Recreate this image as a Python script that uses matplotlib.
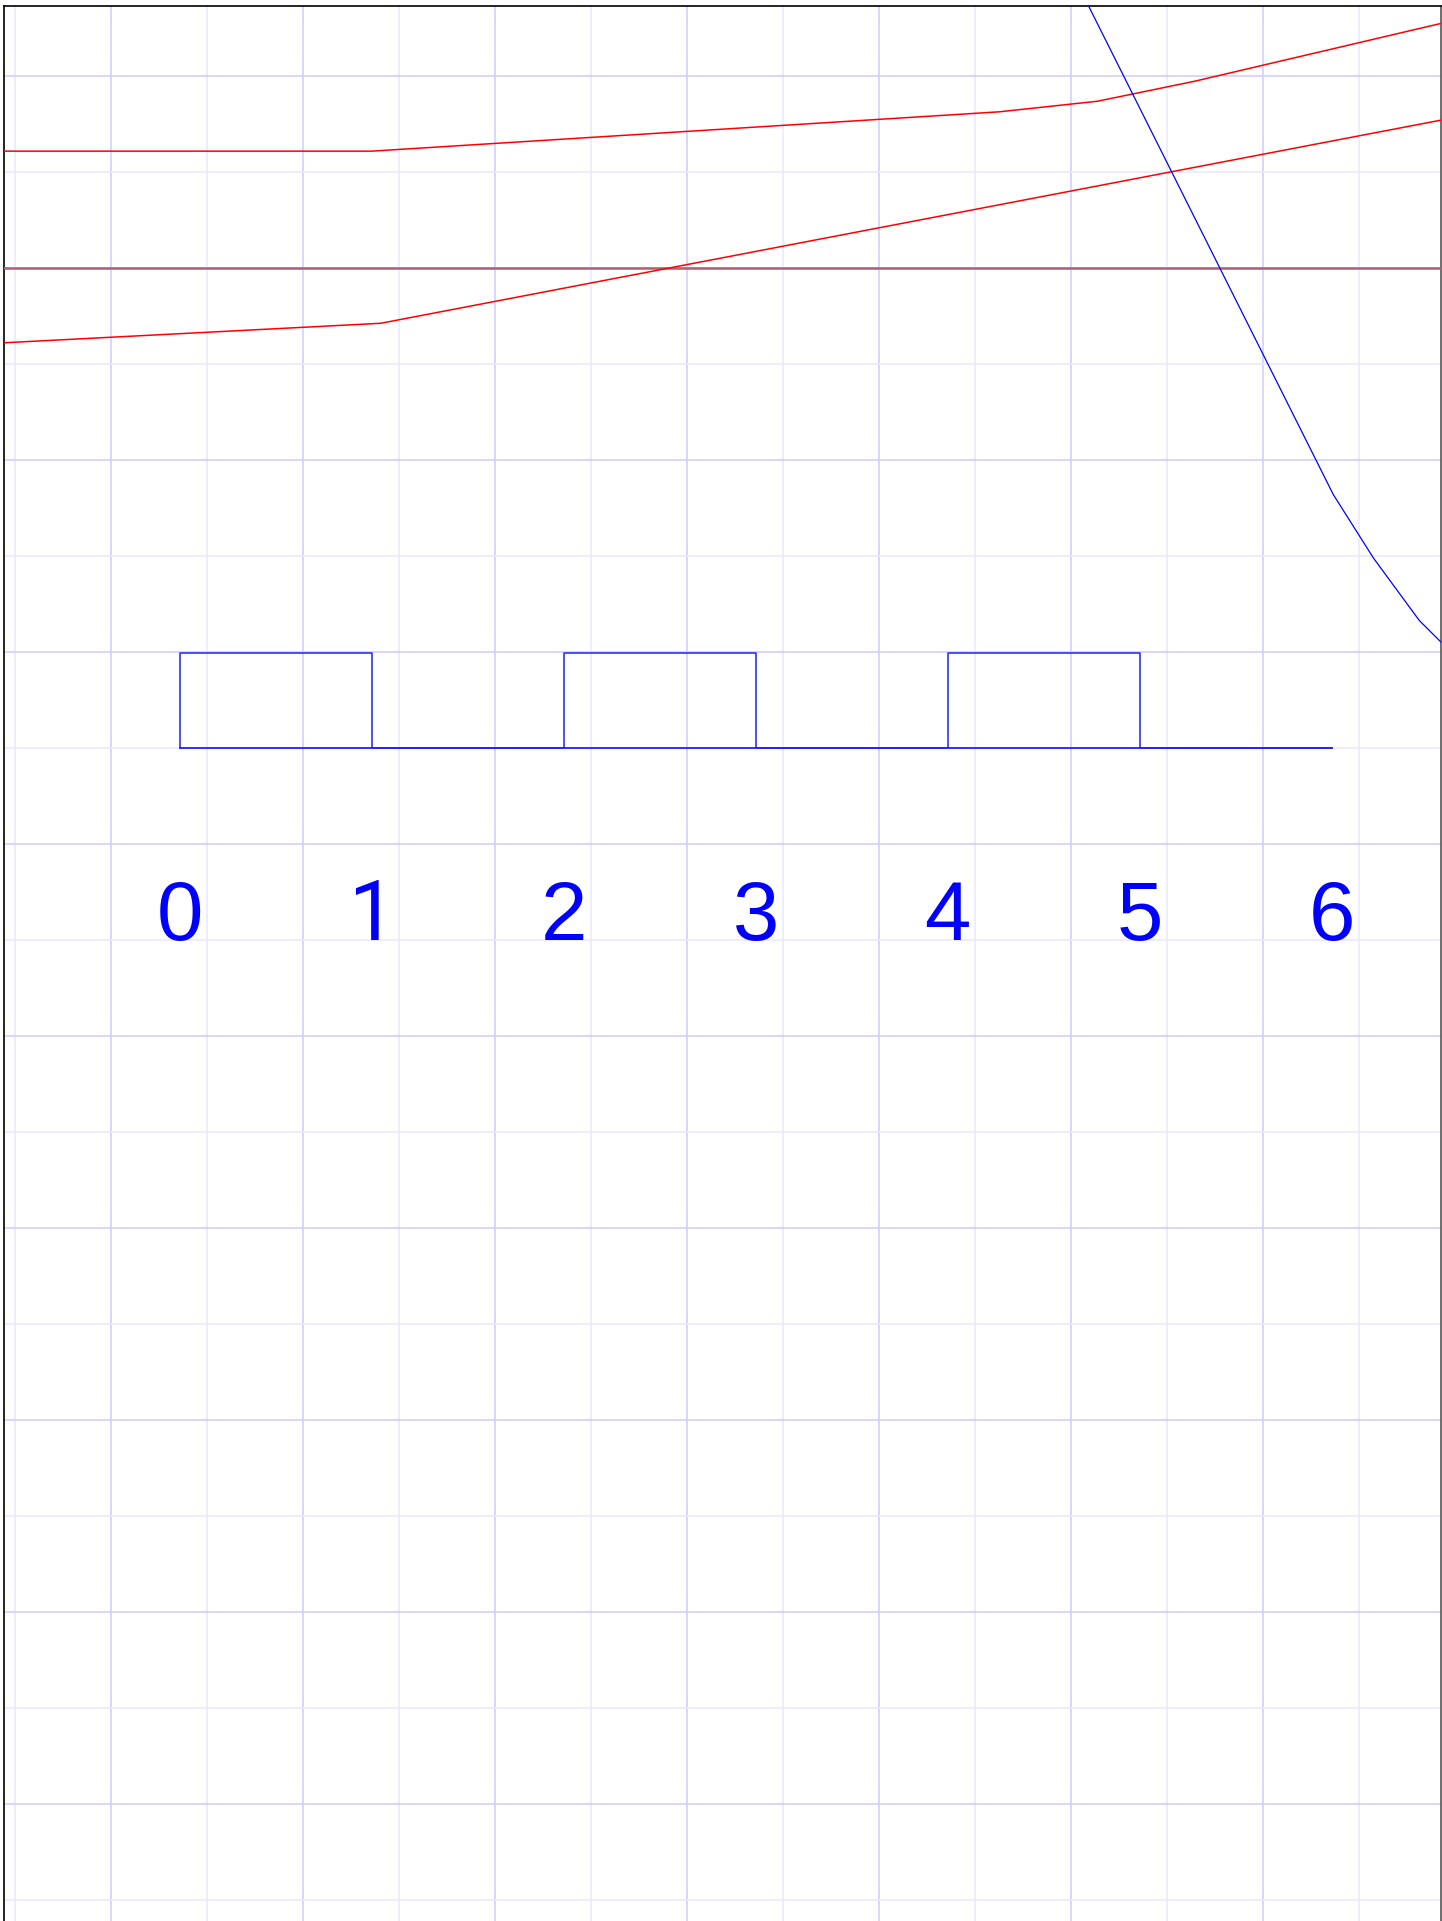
import matplotlib
matplotlib.use("Agg")
import matplotlib.pyplot as plt
import numpy as np

# ---------------- data ----------------
labels = ["0", "1", "2", "3", "4", "5", "6"]
label_x = [0, 1, 2, 3, 4, 5, 6]
label_y = -2.0

# square wave (clock) : edges, high/low levels
wave_x = [0, 0, 1, 1, 2, 2, 3, 3, 4, 4, 5, 5, 6]
wave_y = [0, 0.99, 0.99, 0, 0, 0.99, 0.99, 0, 0, 0.99, 0.99, 0, 0]
base_x = [0, 6]
base_y = [0, 0]

# red polylines
red_a_x = [-1.0, 1.0, 4.27, 4.78, 5.29, 6.60]
red_a_y = [6.22, 6.22, 6.63, 6.74, 6.95, 7.565]
red_b_x = [-1.0, 1.047, 6.60]
red_b_y = [4.215, 4.427, 6.555]
ref_x = [-1.0, 6.7]
ref_y = [5.0, 5.0]

# blue descending curve
blue_x = [4.70, 6.008, 6.217, 6.456, 6.573, 6.60]
blue_y = [7.866, 2.643, 1.982, 1.331, 1.098, 1.04]

# ---------------- figure ----------------
W, H = 1442, 1921
fig = plt.figure(figsize=(W / 100, H / 100), dpi=100)
left_px, right_px, top_px = 4.3, 1441.0, 6.0
ax = fig.add_axes([left_px / W, 0.0, (right_px - left_px) / W, 1 - top_px / H])

XLIM = (-0.9135, 6.569)
YLIM = (-12.216, 7.732)

# grid (ticks only inside the view)
x_major = np.arange(-0.359375, 7.0, 1.0)
x_minor = np.arange(-0.859375, 7.0, 1.0)
y_major = np.arange(-13, 9, 2)
y_minor = np.arange(-12, 9, 2)
x_major = x_major[(x_major >= XLIM[0]) & (x_major <= XLIM[1])]
x_minor = x_minor[(x_minor >= XLIM[0]) & (x_minor <= XLIM[1])]
y_major = y_major[(y_major >= YLIM[0]) & (y_major <= YLIM[1])]
y_minor = y_minor[(y_minor >= YLIM[0]) & (y_minor <= YLIM[1])]
ax.set_xticks(x_major)
ax.set_xticks(x_minor, minor=True)
ax.set_yticks(y_major)
ax.set_yticks(y_minor, minor=True)
ax.grid(which="major", color="#ccccff", linewidth=1.1)
ax.grid(which="minor", color="#e8e8ff", linewidth=1.1)
ax.tick_params(which="both", length=0, labelbottom=False, labelleft=False)
ax.set_axisbelow(True)

for s in ["left", "top"]:
    ax.spines[s].set_color("black")
    ax.spines[s].set_linewidth(1.2)
ax.spines["right"].set_color("#555555")
ax.spines["right"].set_linewidth(1.2)
ax.spines["bottom"].set_visible(False)

# lines
ax.plot(ref_x, ref_y, color="#b06070", linewidth=1.8, zorder=3)
ax.plot(red_a_x, red_a_y, color="#ff0000", linewidth=1.1, zorder=4)
ax.plot(red_b_x, red_b_y, color="#ff0000", linewidth=1.1, zorder=4)
ax.plot(blue_x, blue_y, color="#0000ff", linewidth=0.9, zorder=4)
ax.plot(base_x, base_y, color="#2020ff", linewidth=1.3, zorder=4)
ax.plot(wave_x, wave_y, color="#2020ff", linewidth=1.1, zorder=4)

for t, x in zip(labels, label_x):
    fam = ["Roboto", "DejaVu Sans"] if t == "1" else ["Liberation Sans", "DejaVu Sans"]
    ax.text(x, label_y, t, color="#0000ff", fontsize=60, family=fam,
            ha="center", va="baseline", zorder=5)

# final view limits (after ticks so nothing expands them)
ax.set_xlim(*XLIM)
ax.set_ylim(*YLIM)

fig.savefig("out.png", dpi=100)
